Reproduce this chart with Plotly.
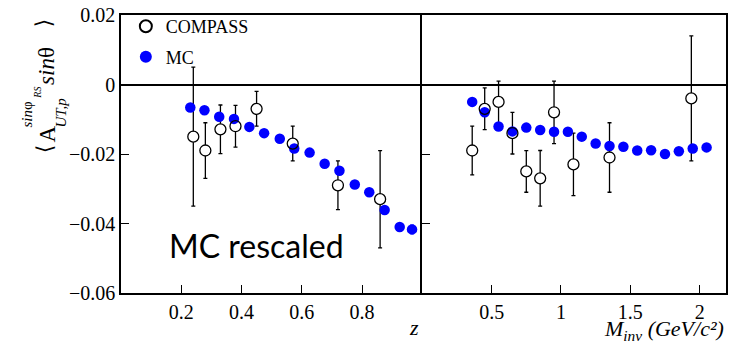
import plotly.graph_objects as go

# ---- asymmetry vs z ----
z_compass = [0.24, 0.28, 0.33, 0.38, 0.45, 0.57, 0.72, 0.86]
a_z_compass = [-0.015, -0.019, -0.0129, -0.012, -0.007, -0.017, -0.029, -0.033]
e_z_compass = [0.020, 0.008, 0.007, 0.006, 0.005, 0.005, 0.007, 0.014]

z_mc = [0.23, 0.277, 0.326, 0.375, 0.426, 0.475, 0.527, 0.575, 0.626,
        0.676, 0.725, 0.776, 0.824, 0.875, 0.925, 0.966]
a_z_mc = [-0.0066, -0.0074, -0.0093, -0.0099, -0.0122, -0.0140, -0.0156, -0.0184,
          -0.0196, -0.0228, -0.0248, -0.0288, -0.0310, -0.0361, -0.0410, -0.0417]
e_z_mc = [0, 0, 0, 0, 0, 0, 0, 0, 0, 0, 0, 0, 0, 0, 0, 0.0012]

# ---- asymmetry vs invariant mass ----
m_compass = [0.36, 0.45, 0.55, 0.65, 0.75, 0.85, 0.95, 1.09, 1.35, 1.94]
a_m_compass = [-0.019, -0.007, -0.005, -0.014, -0.025, -0.027, -0.008, -0.023, -0.021, -0.004]
e_m_compass = [0.007, 0.006, 0.006, 0.006, 0.006, 0.008, 0.009, 0.009, 0.010, 0.018]

m_mc = [0.36, 0.45, 0.55, 0.65, 0.75, 0.85, 0.95, 1.05, 1.15, 1.25, 1.35,
        1.45, 1.55, 1.65, 1.75, 1.85, 1.95, 2.05]
a_m_mc = [-0.0050, -0.0080, -0.0121, -0.0135, -0.0124, -0.0131, -0.0136, -0.0136,
          -0.0150, -0.0170, -0.0177, -0.0179, -0.0190, -0.0189, -0.0200, -0.0192,
          -0.0184, -0.0181]

y_ticks = [-0.06, -0.04, -0.02, 0, 0.02]
y_ticktext = ["\u22120.06", "\u22120.04", "\u22120.02", "0", "0.02"]
z_ticks = [0.2, 0.4, 0.6, 0.8]
m_ticks = [0.5, 1, 1.5, 2]
m_ticktext = ["0.5", "1", "1.5", "2"]

SERIF = "Liberation Serif"
BLUE = "#0000ff"

fig = go.Figure()


def add_panel(x_data, y_data, err, xmc, ymc, emc, xa, ya, legend):
    # error bars with white-filled circles hiding the bar behind the marker
    fig.add_trace(go.Scatter(
        x=x_data, y=y_data, mode="markers", xaxis=xa, yaxis=ya, showlegend=False,
        marker=dict(symbol="circle", size=11, color="white", line=dict(width=0)),
        error_y=dict(type="data", array=err, color="black", thickness=1.3, width=2),
        hoverinfo="skip"))
    fig.add_trace(go.Scatter(
        x=xmc, y=ymc, mode="markers", xaxis=xa, yaxis=ya, name="MC",
        showlegend=legend, legendrank=2, legendgroup="mc",
        marker=dict(symbol="circle", size=10.5, color=BLUE, line=dict(width=0)),
        error_y=(dict(type="data", array=emc, color=BLUE, thickness=1.3, width=2)
                 if emc is not None else None)))
    fig.add_trace(go.Scatter(
        x=x_data, y=y_data, mode="markers", xaxis=xa, yaxis=ya, name="COMPASS",
        showlegend=legend, legendrank=1, legendgroup="data",
        marker=dict(symbol="circle-open", size=11, color="black",
                    line=dict(width=1.3, color="black"))))


add_panel(z_compass, a_z_compass, e_z_compass, z_mc, a_z_mc, e_z_mc, "x", "y", True)
add_panel(m_compass, a_m_compass, e_m_compass, m_mc, a_m_mc, None, "x2", "y2", False)

split = 0.498
axis_common = dict(showline=True, mirror=True, linecolor="black", linewidth=1.5,
                   showgrid=False, ticks="inside", ticklen=8, tickwidth=1.2,
                   tickcolor="black", tickfont=dict(family=SERIF, size=20, color="black"))
yaxis_common = dict(axis_common, range=[-0.06, 0.02], tickvals=y_ticks,
                    ticktext=y_ticktext, zeroline=True, zerolinecolor="black",
                    zerolinewidth=1.5)

# page-pixel helpers for free text placement
L, T, W, H = 121, 13, 607, 280


def px(xp):
    return (xp - L) / W


def py(yp):
    return 1 - (yp - T) / H


fig.update_layout(
    width=732, height=346,
    margin=dict(l=121, r=4, t=13, b=53),
    paper_bgcolor="white", plot_bgcolor="white",
    xaxis=dict(axis_common, domain=[0, split], range=[0, 1], tickvals=z_ticks,
               zeroline=False, anchor="y"),
    xaxis2=dict(axis_common, domain=[split, 1], range=[0, 2.19], tickvals=m_ticks,
                ticktext=m_ticktext, zeroline=False, anchor="y2"),
    # the shared divider line comes from the right panel's y axis only
    yaxis=dict(yaxis_common, domain=[0, 1], anchor="x", mirror=False),
    yaxis2=dict(yaxis_common, domain=[0, 1], anchor="x2", showticklabels=False),
    legend=dict(x=0.008, y=py(6), xanchor="left", yanchor="top",
                bgcolor="rgba(0,0,0,0)", borderwidth=0,
                font=dict(family=SERIF, size=18, color="black"),
                tracegroupgap=4, itemsizing="constant"),
    showlegend=True,
)


def note(text, x, y, size, family=SERIF, angle=0, xanchor="center", yanchor="middle"):
    fig.add_annotation(text=text, x=px(x), y=py(y), xref="paper", yref="paper",
                       showarrow=False, textangle=angle, xanchor=xanchor,
                       yanchor=yanchor, font=dict(family=family, size=size, color="black"))


# axis titles
note("<i>z</i>", 415, 328, 22)
note("<i>M</i><sub><i>inv</i></sub><i> (GeV/c\u00b2)</i>", 728, 330, 22,
     xanchor="right")

# rotated y title, assembled piece by piece
note("\u27e8", 44, 148, 22, family="DejaVu Serif", angle=-90)
note("A", 47, 133, 23, angle=-90)
note("<i>UT,p</i>", 61, 111, 15, angle=-90)
note("<i>sin</i>\u03c6", 27, 113, 15, angle=-90)
note("<i>RS</i>", 37, 91, 10, angle=-90)
note("<i>sin</i>\u03b8", 46, 64, 23, angle=-90)
note("\u27e9", 44, 21, 22, family="DejaVu Serif", angle=-90)

# panel caption
note("MC rescaled", 257, 245, 32, family="Lato")

fig.write_html("out.html")
